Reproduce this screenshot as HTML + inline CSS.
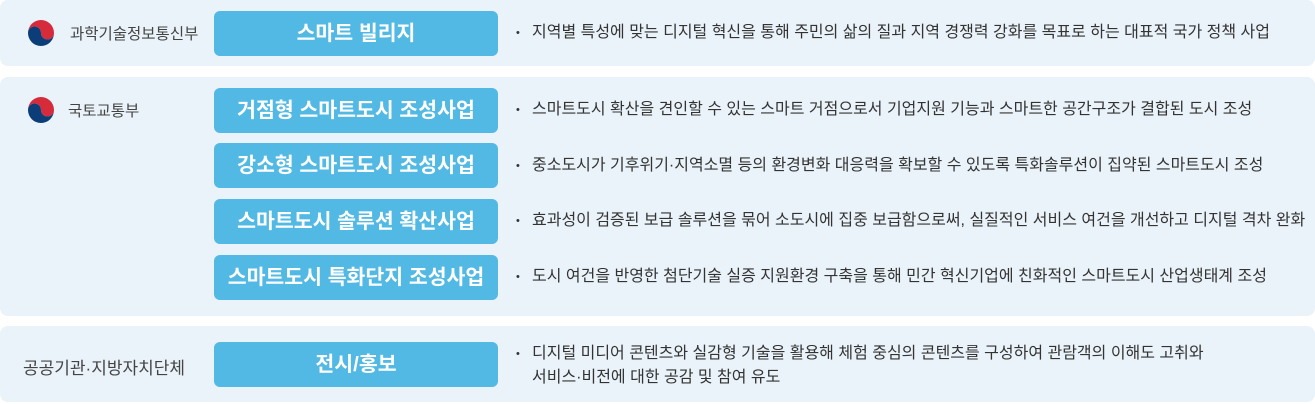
<!DOCTYPE html>
<html><head><meta charset="utf-8"><style>
*{margin:0;padding:0;box-sizing:border-box}
body{width:1315px;height:404px;background:#fff;position:relative;font-family:"Liberation Sans","Noto Sans CJK KR",sans-serif;overflow:hidden}
.panel{position:absolute;left:0;width:1315px;background:#eaf3fa;border-radius:8px}
.btn{position:absolute;left:214px;width:284px;height:45px;background:#52b9e4;border-radius:6px;color:#fff;font-weight:bold;font-size:20.5px;text-align:center;line-height:45px}
.txt{position:absolute;left:532px;font-size:16px;color:#333;line-height:24px}
.txt:before{content:"•";position:absolute;left:-16px;font-size:11px}
.org{position:absolute;font-size:15.5px;color:#444}
.emb{position:absolute;left:26px;width:30px;height:30px}
</style></head><body>
<div class="panel" style="top:0;height:66px"></div>
<div class="panel" style="top:77px;height:239px"></div>
<div class="panel" style="top:326px;height:76px"></div>

<svg class="emb" style="top:18px" viewBox="0 0 30 30"><path d="M2 15A13 13 0 0 1 28 15A6.5 6.5 0 0 1 15 15A6.5 6.5 0 0 0 2 15Z" fill="#d62b3a"/><path d="M2 15A13 13 0 0 0 28 15A6.5 6.5 0 0 1 15 15A6.5 6.5 0 0 0 2 15Z" fill="#0b3d78"/></svg>
<div class="org" style="left:70px;top:22px">과학기술정보통신부</div>
<svg class="emb" style="top:95px" viewBox="0 0 30 30"><path d="M2 15A13 13 0 0 1 28 15A6.5 6.5 0 0 1 15 15A6.5 6.5 0 0 0 2 15Z" fill="#d62b3a"/><path d="M2 15A13 13 0 0 0 28 15A6.5 6.5 0 0 1 15 15A6.5 6.5 0 0 0 2 15Z" fill="#0b3d78"/></svg>
<div class="org" style="left:68px;top:99px">국토교통부</div>
<div class="org" style="left:23px;top:354px;font-size:17px">공공기관·지방자치단체</div>

<div class="btn" style="top:11px">스마트 빌리지</div>
<div class="btn" style="top:88px">거점형 스마트도시 조성사업</div>
<div class="btn" style="top:143px">강소형 스마트도시 조성사업</div>
<div class="btn" style="top:199px">스마트도시 솔루션 확산사업</div>
<div class="btn" style="top:255px">스마트도시 특화단지 조성사업</div>
<div class="btn" style="top:342px">전시/홍보</div>

<div class="txt" style="top:21px">지역별 특성에 맞는 디지털 혁신을 통해 주민의 삶의 질과 지역 경쟁력 강화를 목표로 하는 대표적 국가 정책 사업</div>
<div class="txt" style="top:98px">스마트도시 확산을 견인할 수 있는 스마트 거점으로서 기업지원 기능과 스마트한 공간구조가 결합된 도시 조성</div>
<div class="txt" style="top:154px">중소도시가 기후위기·지역소멸 등의 환경변화 대응력을 확보할 수 있도록 특화솔루션이 집약된 스마트도시 조성</div>
<div class="txt" style="top:209px">효과성이 검증된 보급 솔루션을 묶어 소도시에 집중 보급함으로써, 실질적인 서비스 여건을 개선하고 디지털 격차 완화</div>
<div class="txt" style="top:265px">도시 여건을 반영한 첨단기술 실증 지원환경 구축을 통해 민간 혁신기업에 친화적인 스마트도시 산업생태계 조성</div>
<div class="txt" style="top:342px">디지털 미디어 콘텐츠와 실감형 기술을 활용해 체험 중심의 콘텐츠를 구성하여 관람객의 이해도 고취와<br>서비스·비전에 대한 공감 및 참여 유도</div>
</body></html>
